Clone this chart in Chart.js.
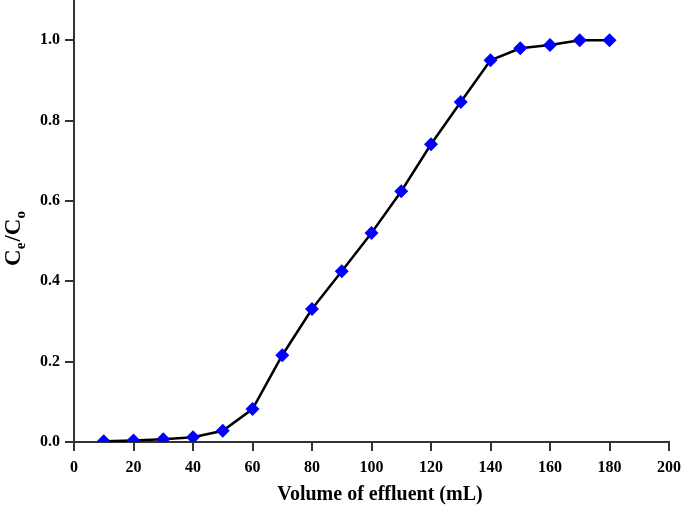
<!DOCTYPE html>
<html>
<head>
<meta charset="utf-8">
<script src="https://cdn.jsdelivr.net/npm/chart.js@4.4.0/dist/chart.umd.min.js"></script>
<style>
  body { margin: 0; background: #fff; }
  #wrap { width: 685px; height: 507px; position: relative; }
</style>
</head>
<body>
<div id="wrap"><canvas id="breakthroughChart"></canvas></div>
<script>
// Breakthrough curve data
const volumes = [10, 20, 30, 40, 50, 60, 70, 80, 90, 100, 110, 120, 130, 140, 150, 160, 170, 180];
const ratios = [0.002, 0.004, 0.007, 0.012, 0.028, 0.082, 0.216, 0.331, 0.425, 0.52, 0.624, 0.741, 0.846, 0.95, 0.98, 0.988, 1.0, 1.0];
const xTicks = [0, 20, 40, 60, 80, 100, 120, 140, 160, 180, 200];
const yTicks = [0, 0.2, 0.4, 0.6, 0.8, 1.0];
const xTitle = 'Volume of effluent (mL)';

const FONT = "'Liberation Serif', 'Times New Roman', serif";

// axis titles: x title plus y title with subscripts (Ce/Co)
const titlesPlugin = {
    id: 'axisTitles',
    afterDraw(chart) {
        const ctx = chart.ctx;
        ctx.save();
        ctx.fillStyle = '#000';

        ctx.font = 'bold 20px ' + FONT;
        ctx.textAlign = 'center';
        ctx.textBaseline = 'alphabetic';
        ctx.fillText(xTitle, 380, 500);

        const parts = [
            { t: 'C', sub: false }, { t: 'e', sub: true },
            { t: '/', sub: false },
            { t: 'C', sub: false }, { t: 'o', sub: true }
        ];
        const big = 'bold 23px ' + FONT;
        const small = 'bold 15px ' + FONT;
        ctx.textAlign = 'left';
        let total = 0;
        parts.forEach(p => {
            ctx.font = p.sub ? small : big;
            p.w = ctx.measureText(p.t).width + (p.sub ? 1 : 0);
            total += p.w;
        });
        ctx.translate(20, 238);
        ctx.rotate(-Math.PI / 2);
        let x = -total / 2;
        parts.forEach(p => {
            ctx.font = p.sub ? small : big;
            ctx.fillText(p.t, x, p.sub ? 5 : 0);
            x += p.w;
        });
        ctx.restore();
    }
};

new Chart(document.getElementById('breakthroughChart').getContext('2d'), {
    type: 'line',
    data: {
        datasets: [{
            data: volumes.map((v, i) => ({ x: v, y: ratios[i] })),
            borderColor: '#000',
            borderWidth: 2.5,
            pointStyle: 'rectRot',
            pointRadius: 7,
            pointBackgroundColor: '#0000ff',
            pointBorderColor: '#0000ff',
            pointBorderWidth: 0,
            tension: 0
        }]
    },
    options: {
        responsive: true,
        maintainAspectRatio: false,
        animation: false,
        layout: { autoPadding: false, padding: { top: 0, right: 16, left: 0, bottom: 0 } },
        plugins: { legend: { display: false }, tooltip: { enabled: false } },
        scales: {
            x: {
                type: 'linear',
                min: 0,
                max: 200,
                afterFit: s => { s.height = 65; s.paddingLeft = 0; s.paddingRight = 0; },
                afterBuildTicks: s => { s.ticks = xTicks.map(v => ({ value: v })); },
                border: { color: '#333', width: 2 },
                grid: { drawOnChartArea: false, drawTicks: true, tickLength: 9, color: '#333', lineWidth: 2 },
                ticks: { color: '#000', padding: 7, font: { family: FONT, size: 16, weight: 'bold' } }
            },
            y: {
                min: 0,
                max: 1.1,
                afterFit: s => { s.width = 74; s.paddingTop = 0; s.paddingBottom = 0; },
                afterBuildTicks: s => { s.ticks = yTicks.map(v => ({ value: v })); },
                border: { color: '#333', width: 2 },
                grid: { drawOnChartArea: false, drawTicks: true, tickLength: 9, color: '#333', lineWidth: 2 },
                ticks: { color: '#000', padding: 5, font: { family: FONT, size: 16, weight: 'bold' }, callback: v => v.toFixed(1) }
            }
        }
    },
    plugins: [titlesPlugin]
});
</script>
</body>
</html>
